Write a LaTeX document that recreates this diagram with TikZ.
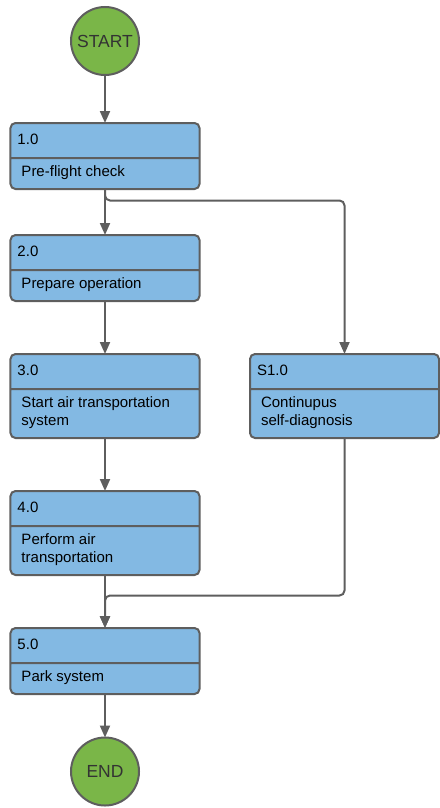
\documentclass[tikz,border=0pt]{standalone}
\usepackage{fontspec}
\setmainfont{Liberation Sans}
\usetikzlibrary{shapes.multipart,positioning,arrows.meta}
\definecolor{stepblue}{HTML}{83B9E3}
\definecolor{termgreen}{HTML}{7AB648}
\definecolor{edgegray}{HTML}{5E5E5E}
% struts fixing the heights of the two parts of a step
\newcommand{\steptag}[1]{\makebox[167bp][l]{\hspace*{-4bp}\rule[-13bp]{0pt}{33bp}#1}}
\newcommand{\topstrut}{\rule{0pt}{17bp}}
\newcommand{\botstrut}{\rule[-12bp]{0pt}{12bp}}
\tikzset{
  >={Triangle[length=12bp,width=10bp]},
  every node/.style={outer sep=0pt},
  stepbox/.style={draw=edgegray, fill=stepblue, line width=2bp, rounded corners=5bp,
    rectangle split, rectangle split parts=2, rectangle split part align={left},
    inner xsep=11bp, inner ysep=0pt, align=left,
    font=\fontsize{15bp}{18bp}\selectfont},
  terminal/.style={draw=edgegray, fill=termgreen, circle, line width=2bp,
    minimum size=68bp, inner sep=0pt, text=black!80,
    font=\fontsize{17.5bp}{20bp}\selectfont},
  flow/.style={->, draw=edgegray, line width=2bp},
}

\begin{document}
\begin{tikzpicture}[x=1bp, y=-1bp]
    \useasboundingbox (0,0) rectangle (440,808);

    \node[terminal] (start) at (105,41) {START};
    \node[stepbox, below=48bp of start] (n1)
      {\steptag{1.0}\nodepart{two}\topstrut Pre-flight check\botstrut};
    \node[stepbox, below=46bp of n1] (n2)
      {\steptag{2.0}\nodepart{two}\topstrut Prepare operation\botstrut};
    \node[stepbox, below=53bp of n2] (n3)
      {\steptag{3.0}\nodepart{two}\topstrut Start air transportation\\ system\botstrut};
    \node[stepbox, below=53bp of n3] (n4)
      {\steptag{4.0}\nodepart{two}\topstrut Perform air\\ transportation\botstrut};
    \node[stepbox, below=53bp of n4] (n5)
      {\steptag{5.0}\nodepart{two}\topstrut Park system\botstrut};
    \node[terminal, below=43.5bp of n5] (end) {END};
    \node[stepbox, right=50.5bp of n3] (s1)
      {\steptag{S1.0}\nodepart{two}\topstrut Continupus\\ self-diagnosis\botstrut};

    % main sequence
    \draw[flow] (start) -- (n1);
    \draw[flow] (n1) -- (n2);
    \draw[flow] (n2) -- (n3);
    \draw[flow] (n3) -- (n4);
    \draw[flow] (n4) -- (n5);
    \draw[flow] (n5) -- (end);
    % self-diagnosis runs beside it
    \draw[flow, rounded corners=5bp] (n1.south) -- ++(0,11.5) -| (s1.north);
    \draw[flow, rounded corners=5bp] (s1.south) -- ++(0,157.5) -| (n5.north);
\end{tikzpicture}
\end{document}
